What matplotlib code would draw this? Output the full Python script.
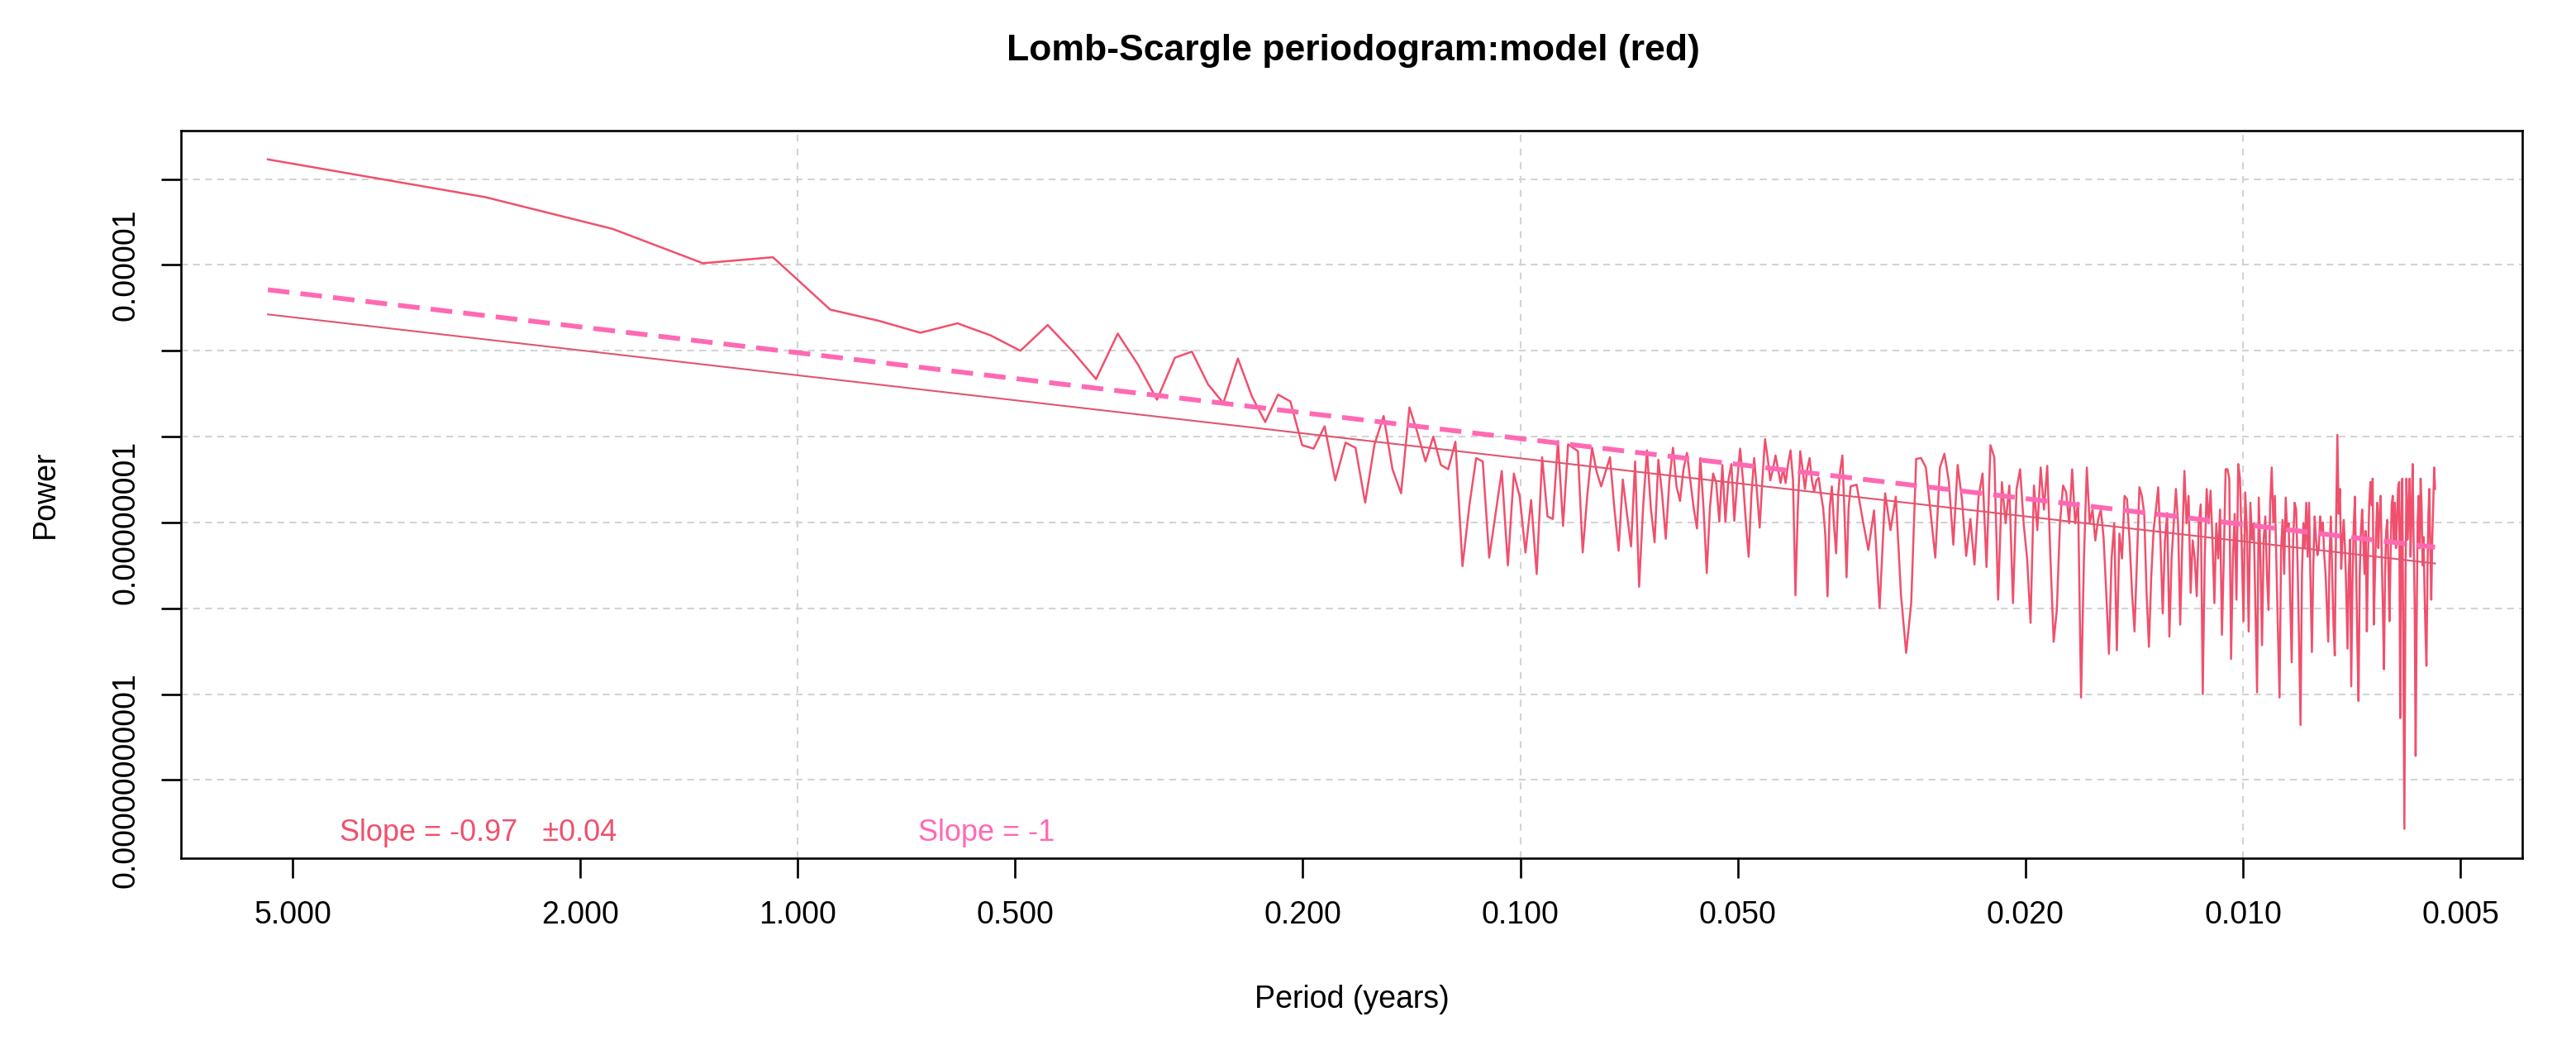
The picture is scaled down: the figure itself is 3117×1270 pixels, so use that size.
import matplotlib
matplotlib.use("Agg")
import matplotlib.pyplot as plt
import numpy as np

plt.rcParams["font.family"] = ["Liberation Sans", "DejaVu Sans"]

# ---------------------------------------------------------------
# Lomb-Scargle periodogram of the model series
# frequencies are harmonics of the record length, periods = base / k
# ---------------------------------------------------------------
base_period = 5.41  # years (first harmonic)
harm_fine = np.arange(1, 156)
harm_coarse = np.arange(158, 1001, 3)

log_power_fine = [
    -3.77, -4.21, -4.58, -4.98, -4.91, -5.52, -5.65, -5.79, -5.68, -5.82,
    -6.00, -5.70, -6.01, -6.33, -5.80, -6.16, -6.57, -6.08, -6.01, -6.39,
    -6.61, -6.09, -6.53, -6.83, -6.51, -6.59, -7.10, -7.14, -6.88, -7.51,
    -7.07, -7.13, -7.77, -7.09, -6.76, -7.38, -7.66, -6.66, -6.96, -7.29,
    -7.00, -7.33, -7.38, -7.06, -8.51, -7.80, -7.25, -7.29, -8.41, -7.90,
    -7.40, -8.50, -7.43, -7.70, -8.35, -7.74, -8.60, -7.24, -7.93, -7.96,
    -7.05, -8.04, -7.09, -7.13, -7.17, -8.35, -7.67, -7.13, -7.41, -7.58,
    -7.41, -7.24, -7.83, -8.33, -7.50, -7.90, -8.28, -7.29, -8.75, -7.83,
    -7.16, -7.83, -8.23, -7.27, -7.67, -8.19, -7.51, -7.13, -7.58, -7.75,
    -7.38, -7.19, -7.51, -7.83, -8.07, -7.25, -7.83, -8.59, -7.83, -7.43,
    -7.54, -7.99, -7.33, -7.99, -7.51, -7.32, -7.98, -7.51, -7.14, -7.51,
    -7.99, -8.40, -7.67, -7.25, -7.64, -8.06, -7.51, -7.03, -7.25, -7.51,
    -7.38, -7.22, -7.38, -7.54, -7.38, -7.54, -7.32, -7.16, -7.51, -8.85,
    -7.83, -7.17, -7.38, -7.61, -7.38, -7.25, -7.51, -7.64, -7.51, -7.48,
    -7.67, -7.83, -8.15, -8.86, -7.83, -7.58, -8.03, -8.36, -7.67, -7.38,
    -7.22, -7.90, -8.64, -7.83, -7.58,
]

log_power_coarse = [
    # k = 158 .. 242
    -7.56, -7.96, -8.32, -7.86, -9.00, -7.66, -8.09, -7.70, -8.85, -9.52,
    -8.94, -7.26, -7.25, -7.36, -7.89, -8.41, -7.36, -7.20, -7.53, -8.26,
    -7.33, -7.73, -8.39, -7.96, -8.49, -7.70, -7.43, -8.52, -7.10,
    # k = 245 .. 521
    -7.24, -8.90, -7.53, -8.01, -7.57, -8.94, -7.61, -7.38, -8.01, -8.42,
    -9.17, -7.57, -8.09, -7.36, -7.85, -7.34, -8.42, -9.39, -9.02, -8.01,
    -7.57, -7.65, -8.01, -7.38, -8.01, -7.77, -10.04, -8.42, -7.36, -8.01,
    -7.85, -8.21, -7.97, -7.85, -8.17, -8.82, -9.53, -8.42, -8.01, -9.49,
    -8.13, -8.42, -7.69, -7.73, -8.21, -8.82, -9.27, -8.42, -7.59, -7.69,
    -7.89, -8.82, -9.45, -8.62, -8.09, -7.85, -7.59, -8.21, -9.06, -8.21,
    -7.89, -9.33, -8.42, -8.01, -7.61, -8.01, -9.19, -8.21, -7.40, -8.01,
    -7.69, -8.82, -8.21, -8.42, -8.86, -8.01, -7.79, -10.00, -8.42, -7.61,
    -8.01, -7.63, -8.21, -8.94, -8.01, -8.42, -7.85, -9.31, -8.42, -7.38,
    -7.38, -7.49, -9.59,
    # k = 524 .. 998
    -8.42, -7.90, -8.90, -7.32, -7.49, -8.30, -9.15, -7.65, -8.10, -9.27,
    -7.77, -8.20, -8.01, -9.00, -9.98, -7.71, -8.40, -9.43, -8.20, -7.93,
    -8.60, -9.02, -7.80, -7.36, -8.00, -7.69, -8.50, -9.30, -10.04, -8.30,
    -7.97, -8.60, -7.71, -8.10, -8.01, -8.90, -9.63, -8.20, -7.77, -7.85,
    -8.50, -9.40, -10.36, -8.60, -8.01, -8.30, -7.77, -8.40, -7.77, -8.70,
    -9.51, -8.50, -7.93, -8.20, -8.38, -8.30, -7.93, -8.10, -8.00, -8.38,
    -8.60, -9.00, -9.39, -8.40, -7.93, -8.60, -9.20, -9.55, -8.00, -6.98,
    -7.90, -7.61, -8.54, -8.20, -7.97, -8.30, -8.80, -9.47, -8.60, -8.20,
    -9.91, -8.70, -8.05, -7.70, -8.50, -9.40, -10.08, -8.60, -8.10, -7.85,
    -8.20, -8.60, -8.10, -9.27, -8.40, -7.80, -7.53, -7.80, -7.49, -9.19,
    -8.60, -8.10, -7.77, -8.30, -7.90, -7.69, -8.40, -9.00, -9.71, -8.60,
    -8.10, -7.97, -8.50, -9.15, -8.40, -7.80, -7.69, -8.20, -7.77, -8.30,
    -8.00, -7.60, -7.53, -10.28, -8.00, -7.49, -9.50, -11.57, -8.80, -7.49,
    -8.20, -7.90, -7.49, -8.40, -7.90, -7.32, -8.20, -8.90, -10.72, -9.20,
    -8.00, -7.69, -8.30, -7.49, -7.80, -8.50, -8.17, -8.80, -9.30, -9.67,
    -8.60, -7.90, -7.61, -8.30, -8.90, -8.20, -7.81, -7.36, -7.61,
]

# fitted power law (solid) and slope -1 reference (dashed), end values
fit_log_power = [-5.576, -8.478]
ref_log_power = [-5.289, -8.289]
fit_label = "Slope = -0.97   \u00b10.04"
ref_label = "Slope = -1"

xtick_vals = [5, 2, 1, 0.5, 0.2, 0.1, 0.05, 0.02, 0.01, 0.005]
ytick_vals = [1e-4, 1e-5, 1e-6, 1e-7, 1e-8, 1e-9, 1e-10, 1e-11]
ytick_text = {1e-5: "0.00001", 1e-8: "0.00000001", 1e-11: "0.00000000001"}

col_data = "#F0506D"
col_fit = "#E0566F"
col_ref = "#FF69B4"

harm = np.concatenate([harm_fine, harm_coarse])
period = base_period / harm
power = 10.0 ** np.array(log_power_fine + log_power_coarse)
fit_period = [period[0], period[-1]]

W, H = 3117, 1270
fig = plt.figure(figsize=(W / 100, H / 100), dpi=100)
ax = fig.add_axes([219 / W, 1 - 1038 / H, (3052 - 219) / W, (1038 - 158) / H])

ax.set_xscale("log")
ax.set_yscale("log")
ax.set_xlim(10 ** 0.8534, 10 ** -2.3866)
ax.set_ylim(10 ** -11.912, 10 ** -3.435)

# grid (decades only)
for v in [1, 0.1, 0.01]:
    ax.axvline(v, color="#D3D3D3", lw=1.5, ls=(0, (4, 4)), zorder=0)
for v in ytick_vals:
    ax.axhline(v, color="#D3D3D3", lw=1.5, ls=(0, (4, 3)), zorder=0)

ax.plot(period, power, color=col_data, lw=1.8, zorder=3)
ax.plot(fit_period, 10.0 ** np.array(fit_log_power), color=col_fit, lw=1.5, zorder=4)
ax.plot(fit_period, 10.0 ** np.array(ref_log_power), color=col_ref, lw=4.2,
        dashes=(4.5, 2.3), zorder=5)

ax.text(4.30, 10 ** -11.614, fit_label, color=col_data, fontsize=26,
        ha="left", va="center")
ax.text(0.681, 10 ** -11.614, ref_label, color=col_ref, fontsize=26,
        ha="left", va="center")

ax.set_xticks(xtick_vals)
ax.set_xticklabels(["%.3f" % v for v in xtick_vals])
ax.xaxis.set_minor_locator(matplotlib.ticker.NullLocator())
ax.set_yticks(ytick_vals)
ax.set_yticklabels([ytick_text.get(v, "") for v in ytick_vals], rotation=90, va="center")
ax.yaxis.set_minor_locator(matplotlib.ticker.NullLocator())

ax.tick_params(axis="both", direction="out", length=17, width=1.9, labelsize=27)
ax.tick_params(axis="x", pad=20)
ax.tick_params(axis="y", pad=18)
for s in ax.spines.values():
    s.set_linewidth(1.9)

fig.text(1637 / W, 1 - 62 / H, "Lomb-Scargle periodogram:model (red)",
         fontsize=32, fontweight="bold", ha="center", va="center")
fig.text(1636 / W, 1 - 1209 / H, "Period (years)", fontsize=27, ha="center", va="center")
fig.text(55 / W, 1 - 598 / H, "Power", fontsize=27, rotation=90, ha="center", va="center")

fig.savefig("out.png", dpi=100)
